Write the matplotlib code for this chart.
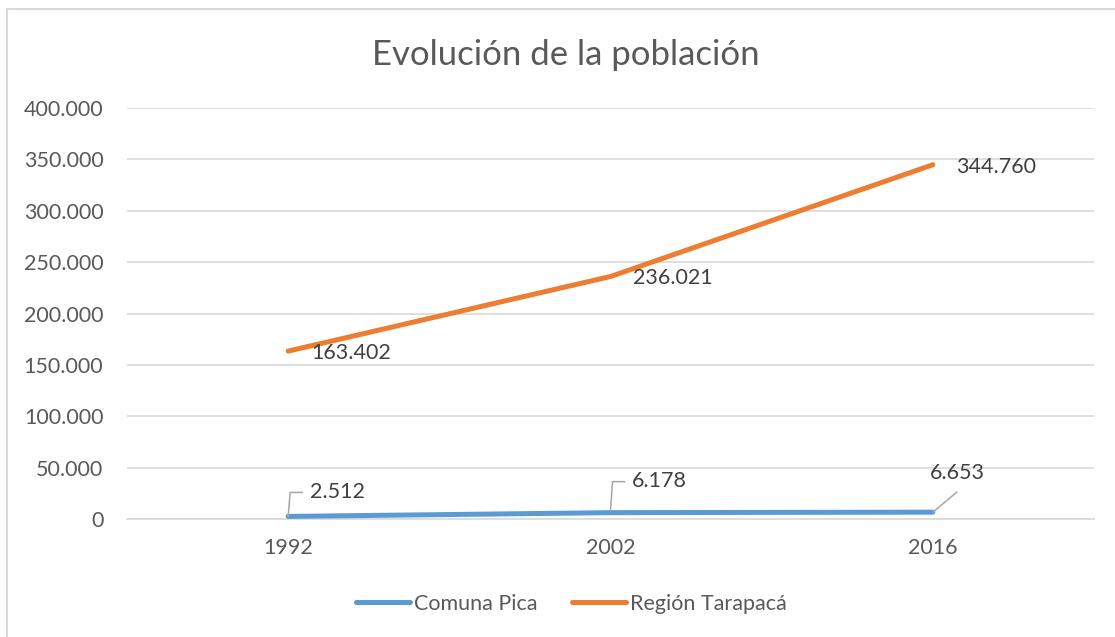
import matplotlib.pyplot as plt
from matplotlib.lines import Line2D

# data
years = ["1992", "2002", "2016"]
comuna_pica = [2512, 6178, 6653]
region_tarapaca = [163402, 236021, 344760]
yticks = [0, 50000, 100000, 150000, 200000, 250000, 300000, 350000, 400000]

def fmt(v):
    return f"{v:,}".replace(",", ".")

plt.rcParams['font.family'] = ['Lato', 'DejaVu Sans']

W, H = 1115, 637
fig = plt.figure(figsize=(W / 100, H / 100), dpi=100)
ax = fig.add_axes([127 / W, 1 - 519 / H, (1094 - 127) / W, (519 - 108) / H])

x = list(range(len(years)))
blue = "#5B9BD5"
orange = "#ED7D31"
ax.plot(x, comuna_pica, color=blue, lw=3.6, solid_capstyle="round", label="Comuna Pica", zorder=3)
ax.plot(x, region_tarapaca, color=orange, lw=3.6, solid_capstyle="round", label="Región Tarapacá", zorder=3)

ax.set_xlim(-0.5, 2.5)
ax.set_ylim(0, 400000)
ax.set_xticks(x)
ax.set_xticklabels(years)
ax.set_yticks(yticks)
ax.set_yticklabels([fmt(v) for v in yticks])
ax.grid(axis="y", color="#D9D9D9", lw=1.2)
ax.set_axisbelow(True)
for s in ["top", "right", "left"]:
    ax.spines[s].set_visible(False)
ax.spines["bottom"].set_color("#D9D9D9")
ax.spines["bottom"].set_linewidth(1.2)
ax.tick_params(axis="both", length=0, labelsize=15.5, colors="#595959")
ax.tick_params(axis="y", pad=17)
ax.tick_params(axis="x", pad=14)

lab_color = "#404040"
fs = 15.5
# Región Tarapacá labels (right of point)
for xi, v in zip(x, region_tarapaca):
    ax.annotate(fmt(v), (xi, v), xytext=(23, -2), textcoords="offset pixels",
                ha="left", va="center", fontsize=fs, color=lab_color)

# Comuna Pica labels with leader lines
offsets = [(22, 24), (21, 32), (-3, 39)]
leaders = [
    [(0, 0), (2, 24), (14, 24)],
    [(0, 2), (2, 31), (14, 31)],
    [(0, 0), (24, 20)],
]
inv = ax.transData.inverted()
for (xi, v), (dx, dy), pts in zip(zip(x, comuna_pica), offsets, leaders):
    ax.annotate(fmt(v), (xi, v), xytext=(dx, dy), textcoords="offset pixels",
                ha="left", va="center", fontsize=fs, color=lab_color)
    px0, py0 = ax.transData.transform((xi, v))
    dpts = [inv.transform((px0 + p[0], py0 + p[1])) for p in pts]
    ax.plot([d[0] for d in dpts], [d[1] for d in dpts], color="#A6A6A6", lw=1.1,
            zorder=4, clip_on=False)

fig.text(566 / W, 1 - 55 / H, "Evolución de la población", ha="center", va="center",
         fontsize=25, color="#595959")

ax.legend(loc="center", bbox_to_anchor=(571 / W, 1 - 604 / H), bbox_transform=fig.transFigure,
          ncol=2, frameon=False, fontsize=15.5, labelcolor="#595959", handlelength=2.55,
          handletextpad=0.15, columnspacing=1.6)

# chart border
fig.add_artist(Line2D([7 / W, 1], [1 - 9 / H, 1 - 9 / H], color="#D9D9D9", lw=1.5, transform=fig.transFigure))
fig.add_artist(Line2D([7 / W, 7 / W], [1 - 9 / H, 0], color="#D9D9D9", lw=1.5, transform=fig.transFigure))

fig.savefig("out.png", dpi=100, facecolor="white")
